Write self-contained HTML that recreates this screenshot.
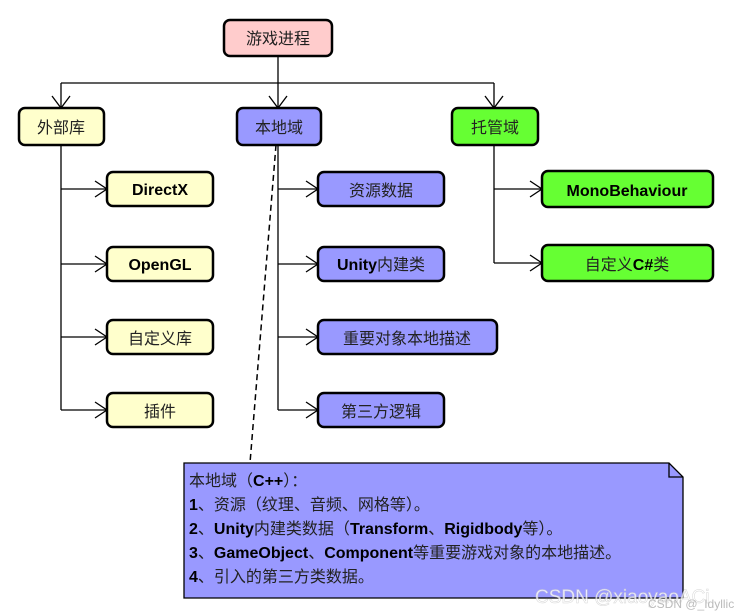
<!DOCTYPE html>
<html><head><meta charset="utf-8"><style>
html,body{margin:0;padding:0;background:#fff;}
svg{display:block;}
text{font-family:"Liberation Sans","Noto Sans CJK SC",sans-serif;font-size:16px;fill:#222;}
.b{font-weight:bold;fill:#000;}
.box{stroke:#000;stroke-width:2.5;}
.ln{stroke:#000;stroke-width:1.3;fill:none;}
</style></head><body>
<svg width="751" height="616" viewBox="0 0 751 616">
<!-- connectors -->
<path class="ln" d="M278 56V108 M61 83H494 M61 83V108 M494 83V108"/>
<path class="ln" d="M52 96L61 108L70 96 M269 96L278 108L287 96 M485 96L494 108L503 96"/>
<path class="ln" d="M61 145V410 M61 189H107 M61 264H107 M61 337H107 M61 410H107"/>
<path class="ln" d="M278 145V410 M278 189H318 M278 264H318 M278 337H318 M278 410H318"/>
<path class="ln" d="M494 145V263 M494 189H542 M494 263H542"/>
<g class="ln">
<path d="M95 181L107 189L95 197"/><path d="M95 256L107 264L95 272"/><path d="M95 329L107 337L95 345"/><path d="M95 402L107 410L95 418"/>
<path d="M306 181L318 189L306 197"/><path d="M306 256L318 264L306 272"/><path d="M306 329L318 337L306 345"/><path d="M306 402L318 410L306 418"/>
<path d="M530 181L542 189L530 197"/><path d="M530 255L542 263L530 271"/>
</g>
<path d="M276 145L250 463" stroke="#000" stroke-width="1.5" stroke-dasharray="6,4"/>
<!-- boxes -->
<rect class="box" x="224" y="20" width="108" height="36" rx="6" fill="#ffcccc"/>
<text x="278" y="44" text-anchor="middle">游戏进程</text>
<rect class="box" x="19" y="108" width="85" height="37" rx="6" fill="#ffffcc"/>
<text x="61" y="133" text-anchor="middle">外部库</text>
<rect class="box" x="237" y="108" width="84" height="37" rx="6" fill="#9999ff"/>
<text x="279" y="133" text-anchor="middle">本地域</text>
<rect class="box" x="452" y="108" width="86" height="37" rx="6" fill="#66ff33"/>
<text x="495" y="133" text-anchor="middle">托管域</text>

<rect class="box" x="107" y="172" width="106" height="34" rx="6" fill="#ffffcc"/>
<text x="160" y="195" text-anchor="middle" class="b">DirectX</text>
<rect class="box" x="107" y="247" width="106" height="34" rx="6" fill="#ffffcc"/>
<text x="160" y="270" text-anchor="middle" class="b">OpenGL</text>
<rect class="box" x="107" y="320" width="106" height="34" rx="6" fill="#ffffcc"/>
<text x="160" y="344" text-anchor="middle">自定义库</text>
<rect class="box" x="107" y="393" width="106" height="34" rx="6" fill="#ffffcc"/>
<text x="160" y="417" text-anchor="middle">插件</text>

<rect class="box" x="318" y="172" width="126" height="34" rx="6" fill="#9999ff"/>
<text x="381" y="196" text-anchor="middle">资源数据</text>
<rect class="box" x="318" y="247" width="126" height="34" rx="6" fill="#9999ff"/>
<text x="381" y="270" text-anchor="middle"><tspan class="b">Unity</tspan>内建类</text>
<rect class="box" x="318" y="320" width="179" height="34" rx="6" fill="#9999ff"/>
<text x="407" y="344" text-anchor="middle">重要对象本地描述</text>
<rect class="box" x="318" y="393" width="126" height="34" rx="6" fill="#9999ff"/>
<text x="381" y="417" text-anchor="middle">第三方逻辑</text>

<rect class="box" x="542" y="171" width="171" height="36" rx="6" fill="#66ff33"/>
<text x="627" y="196" text-anchor="middle" class="b">MonoBehaviour</text>
<rect class="box" x="542" y="245" width="171" height="36" rx="6" fill="#66ff33"/>
<text x="627" y="270" text-anchor="middle">自定义<tspan class="b">C#</tspan>类</text>
<!-- note -->
<path d="M184 463H669L683 477V598H184Z" fill="#9999ff" stroke="#000" stroke-width="1.3"/>
<path d="M669 463V477H683" fill="none" stroke="#000" stroke-width="1.3"/>
<text x="189" y="486">本地域（<tspan class="b">C++</tspan>）：</text>
<text x="189" y="510"><tspan class="b">1</tspan>、资源（纹理、音频、网格等）。</text>
<text x="189" y="534"><tspan class="b">2</tspan>、<tspan class="b">Unity</tspan>内建类数据（<tspan class="b">Transform</tspan>、<tspan class="b">Rigidbody</tspan>等）。</text>
<text x="189" y="558"><tspan class="b">3</tspan>、<tspan class="b">GameObject</tspan>、<tspan class="b">Component</tspan>等重要游戏对象的本地描述。</text>
<text x="189" y="582"><tspan class="b">4</tspan>、引入的第三方类数据。</text>
<text x="535" y="603" style="font-size:19px;fill:#ffffff;stroke:#ccc;stroke-width:0.5;opacity:0.8">CSDN @xiaoyaoACi</text>
<text x="648" y="608" style="font-size:12px;fill:#bbb">CSDN @_Idyllic</text>
</svg>
</body></html>
